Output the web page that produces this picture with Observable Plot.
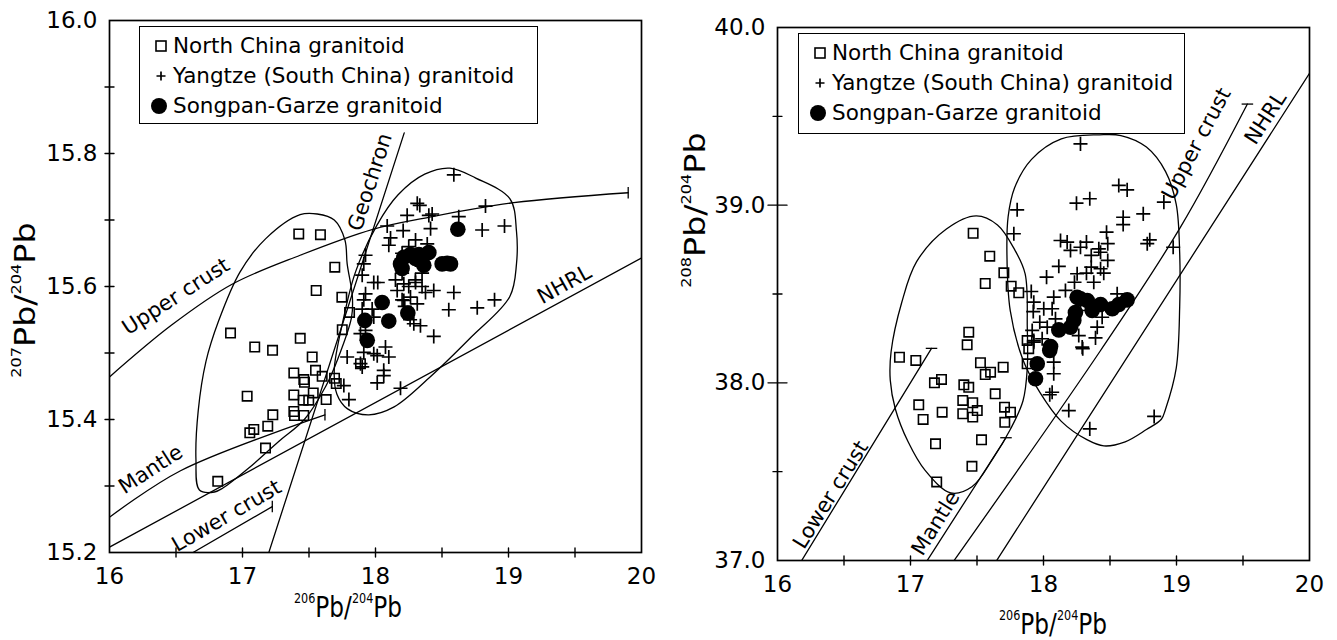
<!DOCTYPE html>
<html><head><meta charset="utf-8">
<script src="https://cdn.jsdelivr.net/npm/d3@7"></script>
<script src="https://cdn.jsdelivr.net/npm/@observablehq/plot@0.6"></script>
<style>
body{margin:0;background:#fff;width:1337px;height:640px;position:relative;overflow:hidden;font-family:"DejaVu Sans",sans-serif;color:#000}
.panel{position:absolute;top:0}
.legend{position:absolute;border:1.5px solid #000;background:#fff;box-sizing:border-box;font-size:21.5px;line-height:30px;padding-top:4px}
.legend .row{position:relative;height:30px;white-space:nowrap}
.legend svg{position:absolute;top:0}
.title{position:absolute;white-space:nowrap;font-size:29px;line-height:1}
.title sup{font-size:14px;vertical-align:top;position:relative;top:-2px}
</style></head><body>
<div id="left" class="panel" style="left:0"></div>
<div id="right" class="panel" style="left:670px"></div>
<script>
// ---------- axis ticks ----------
const xTicks = [16, 17, 18, 19, 20];
const xMinor = [16.5, 17, 17.5, 18, 18.5, 19, 19.5];
const y207Ticks = [15.2, 15.4, 15.6, 15.8, 16.0];
const y207Minor = [15.3, 15.4, 15.5, 15.6, 15.7, 15.8, 15.9];
const y208Ticks = [37.0, 38.0, 39.0, 40.0];
const y208Major = [38.0, 39.0];
const y208Minor = [37.5, 38.5, 39.5];

const legendLabels = ["North China granitoid", "Yangtze (South China) granitoid", "Songpan-Garze granitoid"];

// ---------- 207Pb/204Pb vs 206Pb/204Pb ----------
const northChina207 = [[17.423,15.679],[17.586,15.678],[17.694,15.629],[17.554,15.594],[17.747,15.584],[17.805,15.561],[17.75,15.535],[17.434,15.522],[16.91,15.530],[17.092,15.509],[17.226,15.504],[17.524,15.494],[17.386,15.470],[17.461,15.460],[17.466,15.456],[17.549,15.474],[17.599,15.465],[17.692,15.462],[17.705,15.454],[17.887,15.484],[17.035,15.435],[17.386,15.437],[17.532,15.440],[17.456,15.429],[17.498,15.429],[17.629,15.430],[17.386,15.412],[17.391,15.406],[17.461,15.406],[17.228,15.407],[17.085,15.385],[17.055,15.380],[17.19,15.390],[17.173,15.357],[16.814,15.307]];
const yangtze207 = [[18.589,15.768],[18.314,15.725],[18.333,15.722],[18.827,15.721],[18.238,15.707],[18.401,15.707],[18.426,15.709],[18.626,15.705],[18.088,15.691],[18.208,15.684],[18.414,15.687],[18.802,15.685],[18.970,15.691],[18.113,15.673],[18.1,15.662],[18.301,15.670],[18.389,15.664],[17.925,15.647],[17.912,15.634],[17.9,15.617],[17.987,15.606],[18.017,15.606],[18.213,15.604],[18.163,15.594],[18.301,15.606],[18.376,15.591],[18.438,15.594],[18.589,15.591],[17.925,15.589],[17.912,15.580],[17.975,15.566],[18.213,15.579],[18.263,15.584],[18.314,15.574],[18.551,15.565],[18.765,15.568],[18.895,15.580],[18.288,15.544],[17.925,15.534],[18.438,15.525],[17.9,15.566],[17.987,15.554],[18.338,15.541],[17.887,15.529],[17.912,15.501],[17.987,15.499],[18.013,15.496],[18.075,15.509],[18.1,15.494],[17.787,15.494],[17.9,15.479],[18.062,15.474],[18.062,15.466],[18.013,15.455],[17.762,15.451],[18.188,15.447],[17.8,15.430],[17.887,15.484],[18.2,15.65],[18.25,15.66],[18.3,15.64],[18.35,15.62],[18.2,15.62],[18.15,15.61],[18.25,15.6],[18.3,15.61],[18.22,15.57],[18.26,15.55],[18.35,15.6],[18.2,15.58]];
const songpan207 = [[18.619,15.686],[18.401,15.651],[18.326,15.648],[18.263,15.648],[18.213,15.644],[18.188,15.634],[18.2,15.627],[18.338,15.639],[18.363,15.632],[18.301,15.642],[18.501,15.634],[18.564,15.634],[18.539,15.635],[18.05,15.576],[18.243,15.560],[18.1,15.548],[17.92,15.549],[17.938,15.519]];

const envNorth207 = [[16.789,15.291],[16.676,15.294],[16.65,15.34],[16.667,15.413],[16.725,15.487],[16.82,15.548],[16.982,15.622],[17.175,15.672],[17.433,15.708],[17.562,15.709],[17.69,15.70],[17.77,15.67],[17.787,15.634],[17.826,15.585],[17.82,15.554],[17.72,15.493],[17.626,15.45],[17.465,15.40],[17.272,15.367],[17.047,15.327],[16.853,15.297]];
const envYangtze207 = [[18.56,15.778],[18.754,15.763],[19.01,15.732],[19.06,15.683],[19.06,15.634],[19.01,15.585],[18.72,15.524],[18.4,15.462],[18.14,15.419],[17.95,15.407],[17.79,15.416],[17.71,15.438],[17.69,15.475],[17.755,15.548],[17.85,15.622],[18.01,15.692],[18.17,15.738],[18.37,15.769]];

const upperCrust207 = [[16,15.464],[16.467,15.542],[16.918,15.603],[17.433,15.647],[17.98,15.686],[18.40,15.704],[19.04,15.726],[19.90,15.741]];
const mantle207 = [[16,15.253],[16.534,15.323],[17.62,15.407]];
const lowerCrust207 = [[16.628,15.2],[17.224,15.269]];
const nhrl207 = [[16,15.208],[20,15.643]];
const geochron207 = [[17.198,15.2],[18.216,15.831]];
const endTicks207 = [[19.90,15.741],[17.62,15.407],[17.224,15.269]];
const notes207 = [
  {text:"Upper crust", x:16.5, y:15.585, angle:-33},
  {text:"Mantle", x:16.31, y:15.325, angle:-33},
  {text:"Lower crust", x:16.88, y:15.255, angle:-30},
  {text:"Geochron", x:17.96, y:15.757, angle:-72},
  {text:"NHRL", x:19.42, y:15.603, angle:-29}
];

// ---------- 208Pb/204Pb vs 206Pb/204Pb ----------
const northChina208 = [[17.471,38.842],[17.596,38.713],[17.702,38.619],[17.562,38.559],[17.757,38.544],[17.814,38.507],[17.438,38.285],[17.426,38.214],[17.877,38.238],[17.889,38.192],[17.877,38.107],[16.917,38.144],[17.04,38.126],[17.526,38.113],[17.697,38.088],[17.602,38.060],[17.562,38.047],[17.18,38.0],[17.233,38.019],[17.401,37.989],[17.438,37.975],[17.637,37.938],[17.062,37.876],[17.238,37.835],[17.393,37.901],[17.393,37.826],[17.468,37.888],[17.502,37.844],[17.468,37.807],[17.707,37.863],[17.752,37.835],[17.709,37.778],[17.095,37.794],[17.188,37.657],[17.534,37.679],[17.462,37.53],[17.197,37.442]];
const yangtze208 = [[18.278,39.345],[18.566,39.111],[18.629,39.086],[18.248,39.011],[18.348,39.036],[18.905,39.017],[17.802,38.974],[17.777,38.839],[18.599,38.932],[18.599,38.891],[18.75,38.951],[18.474,38.848],[18.780,38.783],[18.799,38.805],[18.975,38.763],[18.128,38.801],[18.178,38.792],[18.203,38.745],[18.278,38.763],[18.323,38.792],[18.416,38.754],[18.483,38.783],[18.359,38.717],[18.429,38.735],[18.115,38.656],[18.023,38.595],[18.483,38.689],[18.359,38.651],[18.429,38.642],[18.253,38.614],[18.323,38.617],[18.453,38.617],[18.233,38.566],[18.378,38.566],[18.165,38.520],[17.908,38.514],[17.927,38.454],[18.002,38.417],[18.077,38.482],[18.065,38.417],[17.923,38.401],[17.972,38.341],[18.09,38.36],[17.915,38.295],[18.028,38.313],[18.265,38.266],[18.404,38.313],[18.441,38.369],[18.391,38.253],[18.278,38.407],[18.554,38.501],[18.291,38.201],[17.927,38.238],[17.99,38.248],[18.077,38.116],[18.077,38.051],[18.047,37.933],[18.065,37.947],[18.19,37.844],[18.348,37.741],[18.295,38.192],[17.927,38.229],[18.832,37.811]];
const songpan208 = [[18.629,38.467],[18.566,38.441],[18.517,38.417],[18.429,38.441],[18.366,38.407],[18.278,38.473],[18.253,38.482],[18.228,38.351],[18.203,38.313],[18.115,38.298],[18.053,38.204],[17.94,38.023],[17.953,38.107],[18.047,38.182],[18.329,38.463],[18.24,38.396]];

const envNorth208 = [[17.494,38.940],[17.27,38.866],[17.046,38.682],[16.934,38.452],[16.854,38.175],[16.848,38.014],[16.886,37.853],[16.982,37.668],[17.11,37.507],[17.302,37.380],[17.462,37.415],[17.622,37.576],[17.75,37.737],[17.846,37.899],[17.878,38.083],[17.878,38.313],[17.862,38.613],[17.782,38.751],[17.654,38.889]];
const envYangtze208 = [[18.422,39.396],[18.134,39.373],[17.91,39.258],[17.782,39.097],[17.734,38.935],[17.725,38.728],[17.75,38.406],[17.846,38.129],[17.974,37.945],[18.134,37.783],[18.326,37.680],[18.454,37.645],[18.614,37.668],[18.774,37.737],[18.886,37.795],[18.918,37.853],[18.998,38.083],[19.024,38.429],[19.024,38.728],[18.998,39.005],[18.918,39.189],[18.774,39.327],[18.582,39.392]];

const lowerCrust208 = [[16.182,37.0],[17.158,38.194]];
const mantle208 = [[17.126,37.0],[17.718,37.691]];
const upperCrust208 = [[17.328,37.0],[18.429,38.182],[19.03,38.876],[19.533,39.569]];
const nhrl208 = [[17.648,37.0],[20,39.742]];
const endTicks208 = [[17.158,38.194],[17.718,37.691],[19.533,39.569]];
const notes208 = [
  {text:"Lower crust", x:16.40, y:37.37, angle:-58},
  {text:"Mantle", x:17.19, y:37.21, angle:-58},
  {text:"Upper crust", x:19.15, y:39.345, angle:-62},
  {text:"NHRL", x:19.67, y:39.49, angle:-57}
];

// ---------- helpers ----------
const P = a => a.map(([x, y]) => ({x, y}));
const vTick = {draw(c, s){const h = Math.sqrt(s) / 2; c.moveTo(0, -h); c.lineTo(0, h);}};
const hTick = {draw(c, s){const h = Math.sqrt(s) / 2; c.moveTo(-h, 0); c.lineTo(h, 0);}};
const stick = {draw(c, l){c.moveTo(0, 0); c.lineTo(0, -l);}};
const lineOpt = {x:"x", y:"y", stroke:"#000", strokeWidth:1.3, clip:true};
const tickOpt = {shape: stick, stroke: "#000", strokeWidth: 1.4};

function panel({width, margins, yDomain, yTicks, yTickMarks, nc, yz, sg, envs, lines, ends, endSym, notes}) {
  return Plot.plot({
    width, height: 640,
    marginLeft: margins[0], marginRight: margins[1], marginTop: margins[2], marginBottom: margins[3],
    x: {domain: [16, 20]},
    y: {domain: yDomain},
    style: {fontFamily: "DejaVu Sans, sans-serif", fontSize: "23px", color: "#000", background: "#fff", overflow: "visible"},
    marks: [
      ...envs.map(e => Plot.line(P(e), {...lineOpt, curve: "catmull-rom-closed"})),
      ...lines.map(l => Plot.line(P(l), {...lineOpt, curve: l.length > 2 ? "catmull-rom" : "linear"})),
      Plot.dot(P(ends), {x:"x", y:"y", symbol: endSym, r: 6.5, stroke:"#000", fill:"none", strokeWidth:1.3}),
      Plot.text(notes, {x:"x", y:"y", text:"text", rotate:"angle", fontSize: 21, fill:"#000"}),
      Plot.dot(P(nc), {x:"x", y:"y", symbol:"square", r:5.3, stroke:"#000", strokeWidth:1.6, fill:"none"}),
      Plot.dot(P(yz), {x:"x", y:"y", symbol:"plus", r:4.6, stroke:"#000", strokeWidth:1.7}),
      Plot.dot(P(sg), {x:"x", y:"y", r:7.8, fill:"#000", stroke:"none"}),
      Plot.axisX(xTicks, {tickSize: 0, tickPadding: 15, tickFormat: d => String(d), label: null, fontSize: 23}),
      Plot.vector(xMinor, {x: d => d, frameAnchor: "bottom", length: 9, rotate: 0, ...tickOpt}),
      Plot.axisY(yTicks, {tickSize: 0, tickPadding: 12, tickFormat: d3.format(".1f"), label: null, fontSize: 23}),
      ...yTickMarks,
      Plot.frame({stroke:"#000", strokeWidth:1.7})
    ]
  });
}

const left = panel({
  width: 670, margins: [109, 29, 20, 88], yDomain: [15.2, 16.0], yTicks: y207Ticks,
  yTickMarks: [Plot.vector(y207Minor, {y: d => d, frameAnchor: "left", length: 9, rotate: 90, ...tickOpt})],
  nc: northChina207, yz: yangtze207, sg: songpan207,
  envs: [envNorth207, envYangtze207],
  lines: [upperCrust207, mantle207, lowerCrust207, nhrl207, geochron207],
  ends: endTicks207, endSym: vTick, notes: notes207
});
const right = panel({
  width: 667, margins: [107, 28, 27, 80], yDomain: [37.0, 40.0], yTicks: y208Ticks,
  yTickMarks: [
    Plot.vector(y208Major, {y: d => d, frameAnchor: "left", length: 19, rotate: 90, ...tickOpt}),
    Plot.vector(y208Minor, {y: d => d, frameAnchor: "left", length: 9, rotate: 90, ...tickOpt})
  ],
  nc: northChina208, yz: yangtze208, sg: songpan208,
  envs: [envNorth208, envYangtze208],
  lines: [lowerCrust208, mantle208, upperCrust208, nhrl208],
  ends: endTicks208, endSym: hTick, notes: notes208
});
document.getElementById("left").appendChild(left);
document.getElementById("right").appendChild(right);

// ---------- legends ----------
function legend(left, top, width, height) {
  const div = document.createElement("div");
  div.className = "legend";
  Object.assign(div.style, {left: left + "px", top: top + "px", width: width + "px", height: height + "px"});
  const syms = [
    '<rect x="6" y="10" width="10" height="10" fill="none" stroke="#000" stroke-width="1.6"/>',
    '<path d="M6.5,15H15.5M11,10.5V19.5" stroke="#000" stroke-width="1.7"/>',
    '<circle cx="11" cy="15" r="8" fill="#000"/>'
  ];
  legendLabels.forEach((t, i) => {
    const row = document.createElement("div");
    row.className = "row";
    row.innerHTML = `<svg width="24" height="30" style="left:${i===2?8:10}px">${syms[i]}</svg><span style="position:absolute;left:33px;top:0">${t}</span>`;
    div.appendChild(row);
  });
  document.body.appendChild(div);
}
legend(139, 26, 399, 98);
legend(798, 33, 387, 101);

// ---------- axis titles ----------
function title(html, x, y, rot, sx) {
  const d = document.createElement("div");
  d.className = "title";
  d.innerHTML = html;
  Object.assign(d.style, {left: x + "px", top: y + "px", transform: `translate(-50%,-50%) rotate(${rot}deg) scale(${sx},1)`});
  document.body.appendChild(d);
}
title("<sup>207</sup>Pb/<sup>204</sup>Pb", 25, 300, -90, 1.15);
title("<sup>206</sup>Pb/<sup>204</sup>Pb", 348, 607, 0, 0.8);
title("<sup>208</sup>Pb/<sup>204</sup>Pb", 695, 210, -90, 1.15);
title("<sup>206</sup>Pb/<sup>204</sup>Pb", 1053, 624, 0, 0.8);
</script>
</body></html>
